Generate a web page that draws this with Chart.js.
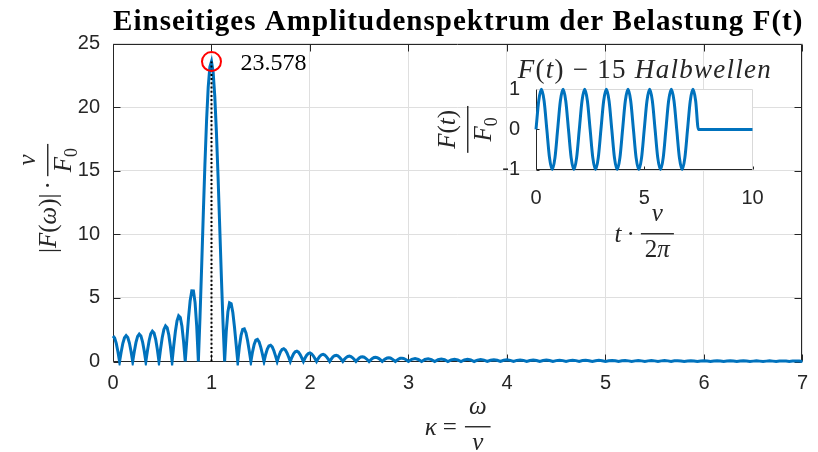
<!DOCTYPE html>
<html>
<head>
<meta charset="utf-8">
<title>Einseitiges Amplitudenspektrum</title>
<script src="https://cdn.jsdelivr.net/npm/chart.js@4/dist/chart.umd.min.js"></script>
<style>
  html, body { margin: 0; padding: 0; background: #fff; }
  #wrap { position: relative; width: 818px; height: 452px; }
  #wrap canvas { position: absolute; left: 0; top: 0; }
</style>
</head>
<body>
<div id="wrap">
  <canvas id="spectrum" width="818" height="452"></canvas>
  <canvas id="inset" width="818" height="452"></canvas>
</div>
<script>
// Spectrum |F(ω)|·ν/F0 of 15 sine half-waves.
// SPEC_NEAR: κ = 0 … 3 in steps of 1/60
const SPEC_NEAR = [
  2.00, 1.85, 1.42, 0.77, 0, 0.77, 1.43, 1.87, 2.04, 1.89, 1.45, 0.79, 0,
  0.80, 1.50, 1.97, 2.15, 2.01, 1.55, 0.85, 0, 0.87, 1.63, 2.17, 2.38, 2.24,
  1.74, 0.96, 0, 1.00, 1.89, 2.52, 2.80, 2.65, 2.08, 1.16, 0, 1.24, 2.36,
  3.20, 3.60, 3.47, 2.77, 1.57, 0, 1.75, 3.43, 4.78, 5.56, 5.55, 4.63, 2.76,
  0, 3.48, 7.44, 11.57, 15.52, 18.95, 21.57, 23.15, 23.58, 22.77, 20.86,
  18.03, 14.52, 10.64, 6.73, 3.10, 0, 2.37, 3.92, 4.62, 4.55, 3.85, 2.71,
  1.36, 0, 1.18, 2.05, 2.52, 2.57, 2.25, 1.63, 0.84, 0, 0.76, 1.34, 1.68,
  1.74, 1.54, 1.13, 0.59, 0, 0.55, 0.97, 1.23, 1.28, 1.15, 0.85, 0.44, 0,
  0.42, 0.75, 0.95, 1.00, 0.90, 0.67, 0.35, 0, 0.33, 0.60, 0.76, 0.81, 0.73,
  0.54, 0.29, 0, 0.27, 0.49, 0.63, 0.67, 0.60, 0.45, 0.24, 0, 0.23, 0.42,
  0.53, 0.56, 0.51, 0.38, 0.20, 0, 0.20, 0.36, 0.46, 0.48, 0.44, 0.33, 0.18,
  0, 0.17, 0.31, 0.40, 0.42, 0.38, 0.29, 0.15, 0, 0.15, 0.27, 0.35, 0.37,
  0.34, 0.25, 0.14, 0, 0.13, 0.24, 0.31, 0.33, 0.30, 0.23, 0.12, 0, 0.12,
  0.21, 0.27, 0.29, 0.27, 0.20, 0.11, 0, 0.11, 0.19, 0.25, 0.26, 0.24, 0.18,
  0.10, 0,
];
const NEAR_STEP = 1 / 60;

// SPEC_FAR: κ = 3 + 1/30 … 7 in steps of 1/30 (tiny tail lobes)
const SPEC_FAR = [
  0.17, 0.24, 0.16, 0, 0.16, 0.22, 0.15, 0, 0.14, 0.20, 0.14, 0,
  0.13, 0.18, 0.13, 0, 0.12, 0.17, 0.12, 0, 0.11, 0.15, 0.11, 0,
  0.10, 0.14, 0.10, 0, 0.10, 0.13, 0.09, 0, 0.09, 0.12, 0.09, 0,
  0.08, 0.12, 0.08, 0, 0.08, 0.11, 0.08, 0, 0.07, 0.10, 0.07, 0,
  0.07, 0.10, 0.07, 0, 0.07, 0.09, 0.06, 0, 0.06, 0.09, 0.06, 0,
  0.06, 0.08, 0.06, 0, 0.06, 0.08, 0.05, 0, 0.05, 0.07, 0.05, 0,
  0.05, 0.07, 0.05, 0, 0.05, 0.07, 0.05, 0, 0.05, 0.06, 0.04, 0,
  0.04, 0.06, 0.04, 0, 0.04, 0.06, 0.04, 0, 0.04, 0.06, 0.04, 0,
  0.04, 0.05, 0.04, 0, 0.04, 0.05, 0.04, 0, 0.03, 0.05, 0.03, 0,
  0.03, 0.05, 0.03, 0, 0.03, 0.04, 0.03, 0, 0.03, 0.04, 0.03, 0,
];
const FAR_START = 3;
const FAR_STEP = 1 / 30;

// Marked maximum
const PEAK_KAPPA = 1;
const PEAK_VALUE = 23.578;
const PEAK_TEXT = "23.578";

// Inset: F(t)/F0 over t·ν/2π, steps of 1/8, then zero until t = 10
const WAVE = [
  0, 0.71, 1, 0.71, 0, -0.71, -1, -0.71,
  0, 0.71, 1, 0.71, 0, -0.71, -1, -0.71,
  0, 0.71, 1, 0.71, 0, -0.71, -1, -0.71,
  0, 0.71, 1, 0.71, 0, -0.71, -1, -0.71,
  0, 0.71, 1, 0.71, 0, -0.71, -1, -0.71,
  0, 0.71, 1, 0.71, 0, -0.71, -1, -0.71,
  0, 0.71, 1, 0.71, 0, -0.71, -1, -0.71,
  0, 0.71, 1, 0.71, 0,
];
const WAVE_STEP = 0.125;
const WAVE_TAIL = { x: 10, y: 0 };

const TITLE = "Einseitiges Amplitudenspektrum der Belastung F(t)";

const LINE_CLR = "#0072BD";
const AXIS_CLR = "#262626";
const GRID_CLR = "#dfdfdf";
const TICK_FONT = { family: "'Liberation Sans', Arial, sans-serif", size: 20 };

// ─── Helpers for the LaTeX-like labels ───────────────────────────────────────

const it = (t, s) => ({ t, f: `italic ${s}px "Liberation Serif"` });
const rm = (t, s) => ({ t, f: `${s}px "Liberation Serif"` });
const bf = (t, s) => ({ t, f: `bold ${s}px "Liberation Serif"` });
const sub = (t, s) => ({ t, f: `${Math.round(s * 0.7)}px "Liberation Serif"`, dy: s * 0.22 });
const gap = (w) => ({ t: "", f: "", w });

function runsWidth(ctx, runs) {
  let w = 0;
  for (const r of runs) {
    if (r.w != null) { w += r.w; continue; }
    ctx.font = r.f;
    w += ctx.measureText(r.t).width;
  }
  return w;
}

function drawRuns(ctx, runs, x, y) {
  for (const r of runs) {
    if (r.w != null) { x += r.w; continue; }
    ctx.font = r.f;
    ctx.fillText(r.t, x, y + (r.dy || 0));
    x += ctx.measureText(r.t).width;
  }
  return x;
}

// Draws runs letter by letter, spread out so they fill `target` px (centred on cx)
function drawSpread(ctx, runs, cx, y, target) {
  const chars = runs.reduce((n, r) => n + r.t.length, 0);
  const extra = (target - runsWidth(ctx, runs)) / (chars - 1);
  let x = cx - target / 2;
  for (const r of runs) {
    ctx.font = r.f;
    for (const ch of r.t) {
      ctx.fillText(ch, x, y + (r.dy || 0));
      x += ctx.measureText(ch).width + extra;
    }
  }
}

// "pre  num/den", main baseline at y, centred on cx
function drawMath(ctx, pre, num, den, cx, y, s) {
  const wPre = runsWidth(ctx, pre);
  const wNum = runsWidth(ctx, num);
  const wDen = runsWidth(ctx, den);
  const barW = Math.max(wNum, wDen) + 8;
  let x = cx - (wPre + barW) / 2;
  x = drawRuns(ctx, pre, x, y);
  const barY = y - 0.33 * s;
  ctx.fillRect(x, barY - 0.7, barW, 1.4);
  drawRuns(ctx, num, x + (barW - wNum) / 2, barY - 0.5 * s);
  drawRuns(ctx, den, x + (barW - wDen) / 2, barY + 0.94 * s);
}

// ─── Plugins ─────────────────────────────────────────────────────────────────

// MATLAB style box with inward ticks
const axesBox = {
  id: "axesBox",
  beforeDraw(chart, _a, opts) {
    if (!opts.fill) return;
    const { ctx, chartArea: a } = chart;
    ctx.save();
    ctx.fillStyle = opts.fill;
    ctx.fillRect(a.left, a.top, a.right - a.left, a.bottom - a.top);
    ctx.restore();
  },
  beforeDatasetsDraw(chart, _a, opts) {
    const { ctx, chartArea: a, scales } = chart;
    const L = Math.round(a.left) + 0.5;
    const R = Math.round(a.right) - 0.5;
    const T = Math.round(a.top) + 0.5;
    const B = Math.round(a.bottom) - 0.5;
    ctx.save();
    ctx.lineWidth = 1;
    ctx.strokeStyle = opts.color;
    ctx.beginPath();
    for (const t of scales.x.ticks) {
      const px = Math.round(scales.x.getPixelForValue(t.value)) + 0.5;
      ctx.moveTo(px, B);
      ctx.lineTo(px, B - opts.len);
      if (opts.mirror) {
        ctx.moveTo(px, T);
        ctx.lineTo(px, T + opts.len);
      }
    }
    for (const t of scales.y.ticks) {
      const py = Math.round(scales.y.getPixelForValue(t.value)) + 0.5;
      ctx.moveTo(L, py);
      ctx.lineTo(L + opts.len, py);
      if (opts.mirror) {
        ctx.moveTo(R, py);
        ctx.lineTo(R - opts.len, py);
      }
    }
    ctx.moveTo(L, T);
    ctx.lineTo(L, B);
    ctx.lineTo(R, B);
    ctx.stroke();
    ctx.strokeStyle = opts.farColor;
    ctx.beginPath();
    ctx.moveTo(L, T);
    ctx.lineTo(R, T);
    ctx.lineTo(R, B);
    ctx.stroke();
    ctx.restore();
  },
};

const mainLabels = {
  id: "mainLabels",
  afterDraw(chart) {
    const { ctx, chartArea: a, scales } = chart;
    const cx = (a.left + a.right) / 2;
    ctx.save();
    ctx.textBaseline = "alphabetic";
    ctx.textAlign = "left";

    // title, spread over the width of the axes
    ctx.fillStyle = "#000";
    drawSpread(ctx, [bf(TITLE, 29)], cx, 30, a.right - a.left);

    // value of the maximum
    ctx.font = '24px "Liberation Serif"';
    ctx.fillText(
      PEAK_TEXT,
      scales.x.getPixelForValue(PEAK_KAPPA) + 29,
      scales.y.getPixelForValue(PEAK_VALUE) + 8,
    );

    ctx.fillStyle = AXIS_CLR;
    const s = 25;

    // x label: κ = ω/ν
    drawMath(ctx, [it("κ", s), gap(6), rm("=", s), gap(8)], [it("ω", s)], [it("ν", s)], cx, 435, s);

    // y label: |F(ω)| · ν/F0, rotated
    ctx.translate(56, (a.top + a.bottom) / 2 - 4);
    ctx.rotate(-Math.PI / 2);
    drawMath(
      ctx,
      [rm("|", s), it("F", s), rm("(", s), it("ω", s), rm(")", s), rm("|", s), gap(4), rm("·", s), gap(5)],
      [it("ν", s)],
      [it("F", s), sub("0", s)],
      0, 0, s,
    );
    ctx.restore();
  },
};

const insetLabels = {
  id: "insetLabels",
  afterDraw(chart) {
    const { ctx, chartArea: a } = chart;
    const cx = (a.left + a.right) / 2;
    const s = 25;
    ctx.save();
    ctx.textBaseline = "alphabetic";
    ctx.textAlign = "left";
    ctx.fillStyle = AXIS_CLR;

    // title: F(t) − 15 Halbwellen
    const ts = 27;
    drawSpread(
      ctx,
      [it("F", ts), rm("(", ts), it("t", ts), rm(")", ts), rm(" − 15 ", ts), it("Halbwellen", ts)],
      cx, 78, 253,
    );

    // x label: t · ν/2π
    drawMath(ctx, [it("t", s), gap(5), rm("·", s), gap(6)], [it("ν", s)], [rm("2", s), it("π", s)], cx, 242, s);

    // y label: F(t)/F0, rotated
    ctx.translate(476, (a.top + a.bottom) / 2);
    ctx.rotate(-Math.PI / 2);
    drawMath(
      ctx,
      [],
      [it("F", s), rm("(", s), it("t", s), rm(")", s)],
      [it("F", s), sub("0", s)],
      0, 0, s,
    );
    ctx.restore();
  },
};

// ─── Main spectrum chart ─────────────────────────────────────────────────────

const spectrumPoints = [
  ...SPEC_NEAR.map((y, i) => ({ x: i * NEAR_STEP, y })),
  ...SPEC_FAR.map((y, i) => ({ x: FAR_START + (i + 1) * FAR_STEP, y })),
];

new Chart(document.getElementById("spectrum"), {
  type: "line",
  data: {
    datasets: [
      {
        data: [{ x: PEAK_KAPPA, y: PEAK_VALUE }],
        showLine: false,
        pointRadius: 9.5,
        pointBorderWidth: 2,
        pointBorderColor: "#ff0000",
        pointBackgroundColor: "rgba(0,0,0,0)",
        clip: false,
        order: 0,
      },
      {
        data: [{ x: PEAK_KAPPA, y: 0 }, { x: PEAK_KAPPA, y: PEAK_VALUE }],
        borderColor: "#000",
        borderWidth: 2,
        borderDash: [2, 2.2],
        pointRadius: 0,
        order: 1,
      },
      {
        data: spectrumPoints,
        borderColor: LINE_CLR,
        borderWidth: 3,
        pointRadius: 0,
        tension: 0,
        clip: 4,
        order: 2,
      },
    ],
  },
  options: {
    responsive: false,
    animation: false,
    events: [],
    layout: { padding: { top: 43.5, right: 7, left: 0, bottom: 0 } },
    plugins: {
      legend: { display: false },
      tooltip: { enabled: false },
      axesBox: { len: 7, mirror: true, color: AXIS_CLR, farColor: AXIS_CLR },
    },
    scales: {
      x: {
        type: "linear",
        min: 0,
        max: 7,
        ticks: { stepSize: 1, font: TICK_FONT, color: AXIS_CLR, padding: 10, maxRotation: 0 },
        grid: { color: GRID_CLR, drawTicks: false },
        border: { display: false },
        afterFit: (s) => { s.height = 90.5; },
      },
      y: {
        type: "linear",
        min: 0,
        max: 25,
        ticks: { stepSize: 5, font: TICK_FONT, color: AXIS_CLR, padding: 13 },
        grid: { color: GRID_CLR, drawTicks: false },
        border: { display: false },
        afterFit: (s) => { s.width = 113; },
      },
    },
  },
  plugins: [axesBox, mainLabels],
});

// ─── Inset: load over time ───────────────────────────────────────────────────

const wavePoints = [...WAVE.map((y, i) => ({ x: i * WAVE_STEP, y })), WAVE_TAIL];

new Chart(document.getElementById("inset"), {
  type: "line",
  data: {
    datasets: [
      {
        data: wavePoints,
        borderColor: LINE_CLR,
        borderWidth: 3,
        pointRadius: 0,
        cubicInterpolationMode: "monotone",
        clip: 3,
      },
    ],
  },
  options: {
    responsive: false,
    animation: false,
    events: [],
    layout: { padding: { top: 89.3, right: 65.5, left: 0, bottom: 0 } },
    plugins: {
      legend: { display: false },
      tooltip: { enabled: false },
      axesBox: { len: 3, mirror: false, color: AXIS_CLR, farColor: "#d9d9d9", fill: "#fff" },
    },
    scales: {
      x: {
        type: "linear",
        min: 0,
        max: 10,
        ticks: { stepSize: 5, font: TICK_FONT, color: AXIS_CLR, padding: 9, maxRotation: 0 },
        grid: { display: false },
        border: { display: false },
        afterFit: (s) => { s.height = 282.5; },
      },
      y: {
        type: "linear",
        min: -1,
        max: 1,
        ticks: { stepSize: 1, font: TICK_FONT, color: AXIS_CLR, padding: 8 },
        grid: { display: false },
        border: { display: false },
        afterFit: (s) => { s.width = 536; },
      },
    },
  },
  plugins: [axesBox, insetLabels],
});
</script>
</body>
</html>
